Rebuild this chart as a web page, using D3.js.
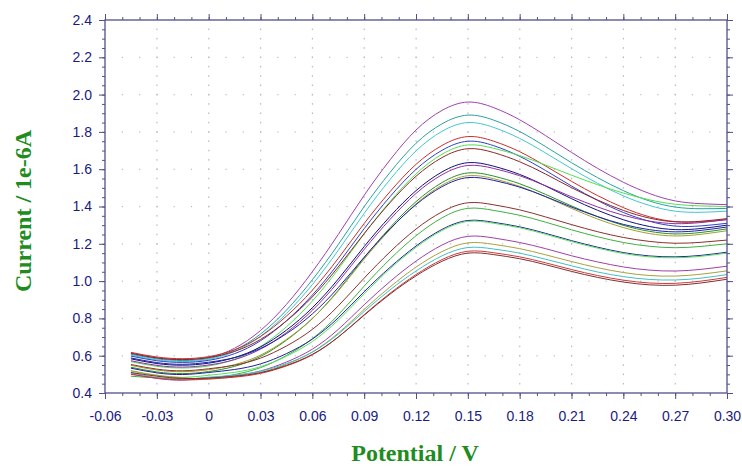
<!DOCTYPE html>
<html><head><meta charset="utf-8">
<script src="https://cdn.jsdelivr.net/npm/d3@7"></script>
<style>html,body{margin:0;padding:0;background:#fff;}svg{display:block;}</style>
</head><body>
<svg id="chart" width="742" height="466"></svg>
<script>
// ---- data ----
const potentials = [-0.045,-0.03,-0.015,0,0.015,0.03,0.045,0.06,0.075,0.09,0.105,0.12,0.135,0.15,0.165,0.18,0.195,0.21,0.225,0.24,0.255,0.27,0.285,0.30];
const seriesColors = ["#a040b0","#2aa0a0","#40c8d0","#c83030","#3040c8","#50e050","#8c2828","#101080",
  "#9030a0","#2a902a","#a0a030","#2020a8","#8c3030","#40b040","#2020a0","#58e058","#a040a8","#a8a040","#40c0c8","#d03838","#803030"];
const c01 = [0.613,0.588,0.579,0.59,0.64,0.735,0.875,1.05,1.25,1.46,1.65,1.81,1.915,1.96,1.93,1.865,1.78,1.69,1.605,1.53,1.47,1.43,1.415,1.41];
const c02 = [0.608,0.583,0.574,0.585,0.630,0.716,0.844,1.007,1.196,1.399,1.583,1.739,1.843,1.89,1.863,1.802,1.721,1.635,1.555,1.485,1.43,1.397,1.388,1.39];
const c03 = [0.603,0.578,0.569,0.58,0.623,0.704,0.826,0.981,1.165,1.363,1.545,1.698,1.803,1.85,1.824,1.765,1.687,1.603,1.525,1.457,1.406,1.375,1.369,1.375];
const c04 = [0.618,0.593,0.584,0.595,0.632,0.703,0.812,0.951,1.122,1.309,1.48,1.626,1.727,1.775,1.75,1.694,1.617,1.535,1.459,1.394,1.345,1.319,1.318,1.33];
const c05 = [0.598,0.573,0.564,0.575,0.611,0.680,0.787,0.925,1.094,1.281,1.453,1.599,1.701,1.75,1.726,1.669,1.593,1.51,1.433,1.368,1.321,1.295,1.296,1.31];
const c06 = [0.568,0.543,0.534,0.545,0.581,0.649,0.755,0.893,1.064,1.253,1.427,1.575,1.68,1.73,1.712,1.673,1.622,1.568,1.517,1.472,1.436,1.412,1.403,1.40];
const c07 = [0.613,0.588,0.579,0.59,0.623,0.687,0.786,0.915,1.076,1.255,1.421,1.562,1.662,1.71,1.689,1.64,1.574,1.501,1.435,1.379,1.338,1.318,1.321,1.335];
const c08 = [0.583,0.558,0.549,0.56,0.59,0.647,0.737,0.857,1.011,1.185,1.347,1.485,1.585,1.635,1.616,1.572,1.51,1.442,1.38,1.329,1.293,1.276,1.282,1.30];
const c09 = [0.573,0.548,0.539,0.55,0.579,0.635,0.724,0.843,0.996,1.17,1.331,1.47,1.57,1.62,1.604,1.565,1.511,1.452,1.398,1.353,1.322,1.308,1.314,1.33];
const c10 = [0.538,0.513,0.504,0.515,0.543,0.596,0.683,0.799,0.951,1.125,1.287,1.426,1.528,1.58,1.563,1.522,1.465,1.403,1.346,1.299,1.267,1.253,1.261,1.28];
const c11 = [0.548,0.523,0.514,0.525,0.552,0.603,0.687,0.799,0.947,1.118,1.277,1.414,1.514,1.565,1.549,1.508,1.452,1.39,1.333,1.287,1.255,1.242,1.251,1.27];
const c12 = [0.588,0.563,0.554,0.565,0.59,0.639,0.718,0.824,0.965,1.128,1.28,1.41,1.506,1.555,1.54,1.504,1.453,1.397,1.346,1.304,1.276,1.264,1.272,1.29];
const c13 = [0.553,0.528,0.519,0.53,0.549,0.587,0.652,0.741,0.867,1.016,1.157,1.279,1.371,1.42,1.409,1.382,1.344,1.303,1.265,1.234,1.213,1.203,1.208,1.22];
const c14 = [0.49,0.481,0.477,0.48,0.499,0.536,0.601,0.691,0.819,0.973,1.118,1.243,1.339,1.39,1.379,1.353,1.316,1.275,1.238,1.207,1.187,1.179,1.186,1.20];
const c15 = [0.533,0.508,0.499,0.51,0.526,0.556,0.611,0.689,0.803,0.943,1.074,1.188,1.277,1.325,1.315,1.291,1.256,1.217,1.182,1.153,1.135,1.13,1.138,1.155];
const c16 = [0.518,0.493,0.484,0.495,0.511,0.541,0.597,0.676,0.791,0.932,1.066,1.181,1.271,1.32,1.31,1.286,1.251,1.212,1.177,1.148,1.13,1.125,1.133,1.15];
const c17 = [0.503,0.478,0.469,0.48,0.493,0.518,0.566,0.635,0.741,0.873,0.998,1.107,1.193,1.24,1.231,1.207,1.174,1.136,1.103,1.076,1.059,1.054,1.063,1.08];
const c18 = [0.52,0.495,0.482,0.475,0.487,0.51,0.554,0.62,0.721,0.848,0.969,1.075,1.158,1.205,1.197,1.174,1.141,1.105,1.072,1.046,1.03,1.027,1.037,1.055];
const c19 = [0.508,0.483,0.474,0.485,0.495,0.517,0.558,0.619,0.716,0.837,0.953,1.054,1.135,1.18,1.172,1.15,1.117,1.082,1.049,1.024,1.009,1.006,1.016,1.035];
const c20 = [0.50,0.48,0.47,0.475,0.485,0.505,0.545,0.605,0.70,0.82,0.935,1.035,1.115,1.16,1.152,1.13,1.098,1.062,1.03,1.005,0.99,0.988,1.0,1.02];
const c21 = [0.51,0.49,0.478,0.48,0.49,0.509,0.548,0.607,0.70,0.817,0.93,1.028,1.106,1.15,1.142,1.12,1.088,1.052,1.02,0.995,0.98,0.978,0.99,1.01];
const seriesValues = [c01,c02,c03,c04,c05,c06,c07,c08,c09,c10,c11,c12,c13,c14,c15,c16,c17,c18,c19,c20,c21];
const xTicks = [-0.06,-0.03,0,0.03,0.06,0.09,0.12,0.15,0.18,0.21,0.24,0.27,0.30];
const yTicks = [0.4,0.6,0.8,1.0,1.2,1.4,1.6,1.8,2.0,2.2,2.4];
const xTitle = "Potential / V";
const yTitle = "Current / 1e-6A";

// ---- layout ----
const L = 105, R = 727, T = 20, B = 393;
const axisColor = "#50508c", labelColor = "#1a1a80", titleColor = "#1e8c1e";
const svg = d3.select("#chart");
const x = d3.scaleLinear().domain([-0.06, 0.30]).range([L, R]);
const y = d3.scaleLinear().domain([0.4, 2.4]).range([B, T]);

const r2 = v => Math.round(v * 1000) / 1000;
const xMinor = d3.range(0, 37).map(i => r2(-0.06 + i * 0.01));
const yMinor = d3.range(0, 41).map(i => r2(0.4 + i * 0.05));

// grid dots
const grid = svg.append("g").attr("fill", "#bcbcbc");
yTicks.slice(1, -1).forEach(yv => {
  xMinor.slice(1, -1).forEach(xv => {
    grid.append("rect").attr("x", x(xv) - 0.5).attr("y", y(yv) - 0.5).attr("width", 1.2).attr("height", 1.2);
  });
});
xTicks.slice(1, -1).forEach(xv => {
  yMinor.slice(1, -1).forEach(yv => {
    grid.append("rect").attr("x", x(xv) - 0.5).attr("y", y(yv) - 0.8).attr("width", 1.2).attr("height", 1.6);
  });
});

// curves
const line = d3.line().x((d, i) => x(potentials[i])).y(d => y(d)).curve(d3.curveNatural);
svg.append("g").selectAll("path").data(seriesValues).join("path")
  .attr("d", d => line(d)).attr("fill", "none")
  .attr("stroke", (d, i) => seriesColors[i]).attr("stroke-width", 1);

// axes
function styleAxis(g) {
  g.select(".domain").remove();
  g.selectAll(".tick line").attr("stroke", axisColor);
  g.selectAll(".tick text").attr("fill", labelColor).attr("font-family", "'Liberation Sans', Arial, sans-serif").attr("font-size", 14);
}
const fmtX = d => d === 0 ? "0" : d3.format(".2f")(d).replace("\u2212", "-");
const fmtY = d3.format(".1f");

svg.append("g").attr("transform", `translate(${L},0)`).call(d3.axisLeft(y).tickValues(yMinor).tickSize(3).tickFormat("")).call(styleAxis);
svg.append("g").attr("transform", `translate(${L},0)`).call(d3.axisLeft(y).tickValues(yTicks).tickSize(6).tickPadding(7).tickFormat(fmtY)).call(styleAxis);
svg.append("g").attr("transform", `translate(${R},0)`).call(d3.axisRight(y).tickValues(yMinor).tickSize(3).tickFormat("")).call(styleAxis);
svg.append("g").attr("transform", `translate(${R},0)`).call(d3.axisRight(y).tickValues(yTicks).tickSize(6).tickFormat("")).call(styleAxis);
svg.append("g").attr("transform", `translate(0,${B})`).call(d3.axisBottom(x).tickValues(xMinor).tickSize(3).tickFormat("")).call(styleAxis);
svg.append("g").attr("transform", `translate(0,${B})`).call(d3.axisBottom(x).tickValues(xTicks).tickSize(6).tickPadding(12).tickFormat(fmtX)).call(styleAxis);
svg.append("g").attr("transform", `translate(0,${T})`).call(d3.axisTop(x).tickValues(xMinor).tickSize(3).tickFormat("")).call(styleAxis);
svg.append("g").attr("transform", `translate(0,${T})`).call(d3.axisTop(x).tickValues(xTicks).tickSize(6).tickFormat("")).call(styleAxis);

// frame
svg.append("rect").attr("x", L).attr("y", T).attr("width", R - L).attr("height", B - T)
  .attr("fill", "none").attr("stroke", axisColor).attr("stroke-width", 1.3);

// titles
svg.append("text").attr("x", 415).attr("y", 461).attr("text-anchor", "middle")
  .attr("font-family", "'Liberation Serif', 'Times New Roman', serif").attr("font-weight", "bold").attr("font-size", 24)
  .attr("fill", titleColor).text(xTitle);
svg.append("text").attr("transform", "translate(31,211) rotate(-90)").attr("text-anchor", "middle")
  .attr("font-family", "'Liberation Serif', 'Times New Roman', serif").attr("font-weight", "bold").attr("font-size", 24)
  .attr("fill", titleColor).text(yTitle);
</script>
</body></html>
